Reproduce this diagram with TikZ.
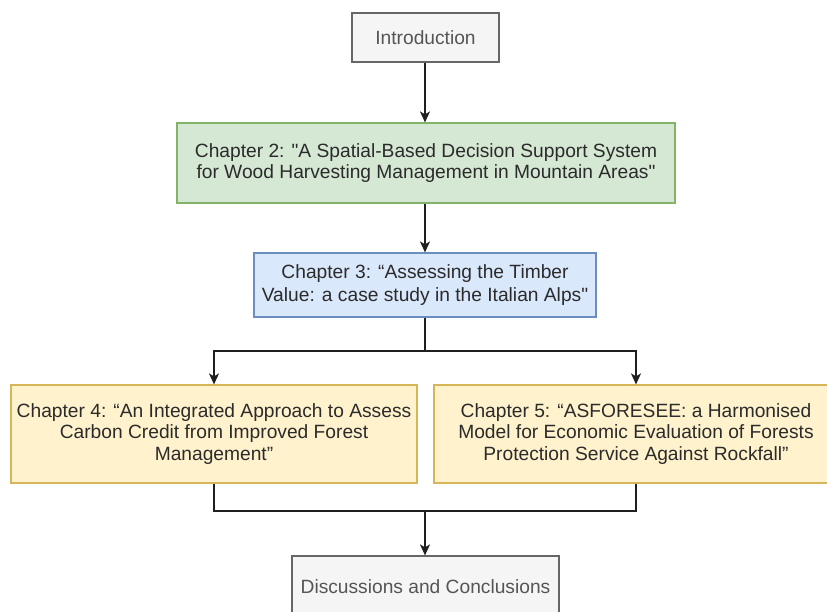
\documentclass[tikz,border=0pt]{standalone}
\usepackage{fontspec}
\setmainfont{Liberation Sans}
\newfontfamily\dqfont{Liberation Sans}
\usetikzlibrary{arrows.meta}
\definecolor{greyfill}{HTML}{F5F5F5}
\definecolor{greyline}{HTML}{666666}
\definecolor{greytext}{HTML}{555555}
\definecolor{greenfill}{HTML}{D5E8D4}
\definecolor{greenline}{HTML}{82B366}
\definecolor{bluefill}{HTML}{DAE8FC}
\definecolor{blueline}{HTML}{6C8EBF}
\definecolor{yellowfill}{HTML}{FFF2CC}
\definecolor{yellowline}{HTML}{D6B656}
\definecolor{txt}{HTML}{2B2B2B}
\newcommand{\sdq}{{\dqfont\symbol{34}}}
\begin{document}
\begin{tikzpicture}[x=1pt,y=-1pt,
  box/.style={draw, line width=1.2pt, inner sep=0pt, align=center,
    font=\fontsize{19.2}{21.5}\selectfont, text=txt},
  greybox/.style={box, fill=greyfill, draw=greyline, text=greytext},
  greenbox/.style={box, fill=greenfill, draw=greenline},
  bluebox/.style={box, fill=bluefill, draw=blueline},
  yellowbox/.style={box, fill=yellowfill, draw=yellowline},
  conn/.style={line width=1.5pt, draw=black!88},
  arr/.style={conn, -{Stealth[length=11pt,width=10pt,inset=3pt]}}]
\useasboundingbox (0,0) rectangle (827,612);
\node[greybox, minimum width=147pt, minimum height=49pt] (intro) at (425.5,37.5) {Introduction};
\node[greenbox, minimum width=498pt, minimum height=80pt] (ch2) at (426,163)
  {Chapter 2: \sdq A Spatial-Based Decision Support System\\for Wood Harvesting Management in Mountain Areas\sdq};
\node[bluebox, minimum width=342pt, minimum height=64pt, font=\fontsize{19.2}{23.5}\selectfont] (ch3) at (425,285)
  {Chapter 3: “Assessing the Timber\\Value: a case study in the Italian Alps\sdq};
\node[yellowbox, minimum width=406pt, minimum height=98pt] (ch4) at (214,434)
  {Chapter 4: “An Integrated Approach to Assess\\Carbon Credit from Improved Forest\\Management”};
\node[yellowbox, minimum width=404pt, minimum height=98pt] (ch5) at (636,434)
  {Chapter 5: “ASFORESEE: a Harmonised\\Model for Economic Evaluation of Forests\\Protection Service Against Rockfall”};
\node[greybox, minimum width=267pt, minimum height=62pt] (disc) at (425.5,587)
  {Discussions and Conclusions};
\coordinate (split) at (425,351);
\coordinate (join) at (425,511);
\draw[arr] (ch3.north |- intro.south) -- (ch3.north |- ch2.north);
\draw[arr] (ch3.north |- ch2.south) -- (ch3.north);
\draw[conn] (ch3.south) -- (ch3.south |- split);
\draw[arr] (ch3.south |- split) -| (ch4.north);
\draw[arr] (ch3.south |- split) -| (ch5.north);
\draw[conn] (ch4.south) |- (join);
\draw[conn] (ch5.south) |- (join);
\draw[arr] (join) -- (join |- disc.north);
\end{tikzpicture}
\end{document}
